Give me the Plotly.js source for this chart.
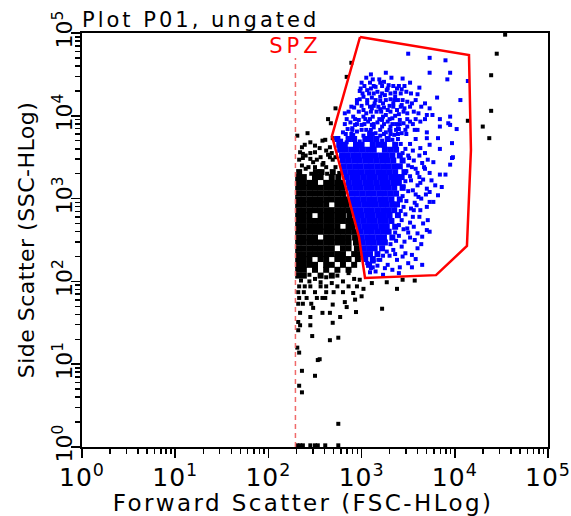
<!DOCTYPE html>
<html>
<head>
<meta charset="utf-8">
<script src="https://cdn.plot.ly/plotly-3.0.1.min.js"></script>
<style>
  html, body { margin:0; padding:0; background:#fff; }
  #chart .gtitle { letter-spacing: 3px; }
  #chart .xtitle { letter-spacing: 2.4px; transform: translateX(-12px); }
  #chart .ytitle { letter-spacing: 0.5px; }
  #chart .xtick text { letter-spacing: 1px; }
  #chart .textpoint text { letter-spacing: 4px; }
</style>
</head>
<body>
<div id="chart" style="width:571px;height:516px;"></div>
<script>
// ---- Data (values in decades, i.e. log10 of the channel value) ----
const tickVals = [1, 10, 100, 1000, 10000, 100000];
const tickText = ['10<sup>0</sup>','10<sup>1</sup>','10<sup>2</sup>','10<sup>3</sup>','10<sup>4</sup>','10<sup>5</sup>'];
const minorDigits = [2, 3, 4, 5, 6, 7, 8, 9];

// Gate "SPZ" polygon (FSC, SSC)
const gateFSC = [962, 14200, 14900, 13500, 6290, 1088, 937, 481, 962];
const gateSSC = [89500, 54200, 3860, 268, 119, 110, 344, 5700, 89500];

// SPZ threshold on FSC
const spzFSC = 195;
const spzTopSSC = 50000;
const spzLabelSSC = 66000;

// Dense blue (gated) core: rows of log10 SSC, each with log10 FSC positions
const blueCoreLogSSC = [3.72,3.65,3.59,3.52,3.46,3.39,3.32,3.26,3.19,3.13,3.06,2.99,2.93,2.86,2.80,2.73,2.66,2.60,2.53,2.47,2.40,2.33,2.27,2.20];
const blueCoreLogFSC = [
  [2.74,2.86,2.92,3.04,3.10,3.16,3.28],
  [2.76,2.82,2.94,3.00,3.12,3.18,3.24,3.36],
  [2.77,2.83,2.89,2.95,3.01,3.07,3.13,3.25,3.31,3.37],
  [2.79,2.85,2.91,2.97,3.03,3.09,3.15,3.21,3.27,3.33,3.41],
  [2.80,2.86,2.92,2.98,3.04,3.10,3.16,3.22,3.28,3.34,3.44],
  [2.81,2.87,2.93,2.99,3.05,3.11,3.17,3.23,3.29,3.35,3.41],
  [2.82,2.88,2.94,3.00,3.06,3.12,3.18,3.24,3.30,3.36,3.46],
  [2.84,2.90,2.96,3.02,3.08,3.14,3.20,3.26,3.32,3.38,3.43],
  [2.86,2.92,2.98,3.04,3.10,3.16,3.22,3.28,3.34,3.40],
  [2.87,2.93,2.99,3.05,3.11,3.17,3.23,3.29,3.35,3.44],
  [2.89,2.95,3.01,3.07,3.13,3.19,3.25,3.31,3.37],
  [2.90,2.96,3.02,3.08,3.14,3.20,3.26,3.32,3.41],
  [2.91,2.97,3.03,3.09,3.15,3.21,3.27,3.33,3.38],
  [2.93,2.99,3.05,3.11,3.17,3.23,3.29,3.35],
  [2.94,3.00,3.06,3.12,3.18,3.24,3.30,3.39],
  [2.96,3.02,3.08,3.14,3.20,3.26,3.32],
  [2.97,3.03,3.09,3.15,3.21,3.27,3.36],
  [2.99,3.05,3.11,3.17,3.23,3.29],
  [3.00,3.06,3.12,3.18,3.24,3.33],
  [3.01,3.07,3.13,3.19,3.25],
  [3.02,3.08,3.14,3.22],
  [3.03,3.09,3.17],
  [3.04,3.12],
  [3.08]
];

// Medium-density blue events above the core: rows of log10 SSC with log10 FSC positions
const blueUpperLogSSC = [4.36,4.33,4.27,4.19,4.11,4.05,3.96,3.90,3.83,3.78];
const blueUpperLogFSC = [
  [3.03,3.13,3.22,3.34,3.46],
  [2.99,3.10,3.28,3.38],
  [3.01,3.13,3.22,3.31,3.42,3.53],
  [2.95,3.06,3.15,3.26,3.35,3.44,3.58],
  [2.89,3.09,3.18,3.34,3.42,3.52,3.64],
  [2.86,2.97,3.10,3.21,3.31,3.45,3.56],
  [2.84,2.93,3.09,3.19,3.30,3.49,3.58,3.68],
  [2.82,2.95,3.03,3.13,3.24,3.33,3.41,3.55],
  [2.90,3.00,3.10,3.20,3.30,3.37,3.47,3.57],
  [2.83,2.89,3.08,3.12,3.24,3.31,3.39,3.48]
];

// Scattered blue (gated) events: [log10 FSC, log10 SSC]
const blueSparseLog = [
  [3.50,4.75],[3.73,4.70],[3.90,4.67],[3.26,4.52],[3.73,4.52],[3.95,4.52],[3.92,4.44],[4.06,4.19],[4.14,4.42],
  [3.05,4.46],[3.12,4.44],[3.19,4.44],[3.09,4.40],[3.20,4.40],[3.29,4.37],[3.52,4.40],[3.62,4.34],[2.98,4.30],
  [3.06,4.31],[3.17,4.29],[3.25,4.25],[3.43,4.32],[3.48,4.29],[3.60,4.26],[3.36,4.28],
  [3.02,4.23],[3.11,4.22],[3.20,4.23],[3.31,4.20],[3.39,4.19],[3.49,4.17],[3.54,4.15],[3.68,4.15],[3.81,4.22],
  [2.95,4.15],[3.06,4.15],[3.14,4.15],[3.23,4.15],[3.34,4.15],[3.43,4.13],
  [3.02,4.07],[3.11,4.09],[3.20,4.08],[3.28,4.07],[3.38,4.07],[3.49,4.03],[3.61,4.03],[3.73,4.09],[3.70,4.01],
  [3.76,4.01],[2.82,4.03],[2.91,3.99],[3.02,3.99],[3.12,3.99],[3.23,3.99],[3.33,3.97],[3.41,3.95],[3.52,3.93],
  [3.63,3.93],[3.84,3.96],[3.93,3.91],[4.02,3.84],[3.95,3.99],[3.95,3.89],
  [2.80,3.80],[2.90,3.85],[3.00,3.89],[3.11,3.89],[3.22,3.87],[3.31,3.87],[3.39,3.85],[3.49,3.87],[3.60,3.83],
  [3.70,3.80],[3.84,3.87],[2.88,3.73],[3.70,3.73],[3.82,3.73],[3.97,3.67],[3.73,3.65],[3.63,3.61],[3.84,3.60],
  [3.68,3.55],[3.71,3.47],[3.97,3.49],
  [3.00,4.40],[3.27,4.31],[3.40,4.36],[2.98,4.20],[3.08,4.27],[3.20,4.18],[3.30,4.12],[3.46,4.09],[2.92,4.10],
  [3.05,4.03],[3.16,4.05],[3.26,4.01],[3.36,4.00],[2.88,3.92],[2.97,3.95],[3.07,3.93],[3.17,3.92],[3.28,3.93],
  [3.37,3.90],[3.45,3.91],[2.85,3.84],[2.95,3.81],[3.05,3.83],[3.15,3.79],[3.26,3.80],[3.35,3.77],[3.43,3.79],
  [2.91,3.77],[3.02,3.76],[3.20,3.76],
  [2.78,3.70],[2.84,3.68],[2.98,3.69],[3.22,3.70],[3.33,3.71],[3.39,3.72],[3.09,3.80],[3.31,3.82],[3.40,3.84],
  [3.13,3.86],[2.93,3.89],[3.04,3.96],[3.22,3.95],[3.40,4.02],[3.13,4.12],[3.24,4.10],[3.00,4.12],[3.36,4.23],
  [3.15,4.35],[3.24,4.41],[3.32,4.46],[3.10,4.50],[3.44,4.45],
  [3.42,3.66],[3.47,3.60],[3.44,3.55],[3.51,3.49],[3.50,3.40],[3.48,3.33],[3.52,3.27],[3.47,3.21],[3.45,3.15],
  [3.50,3.09],[3.44,3.03],[3.48,2.97],[3.45,2.90],[3.42,2.85],[3.47,2.81],[3.43,2.74],[3.40,2.68],[3.45,2.63],
  [3.36,2.59],[3.40,2.55],[3.37,2.49],[3.31,2.45],[3.34,2.38],[3.27,2.36],[3.30,2.31],[3.23,2.31],[3.18,2.26],
  [3.13,2.24],[3.17,2.19],[3.10,2.16],[3.25,2.16],[3.36,2.33],[3.49,2.64],[3.52,2.53],[3.56,2.86],[3.58,3.05],
  [3.60,3.16],[3.62,3.26],
  [3.95,3.41],[3.84,3.29],[3.73,3.31],[3.66,3.23],[3.79,3.16],[3.86,3.14],[3.73,3.08],[3.82,3.04],[3.73,2.96],
  [3.70,2.90],[3.63,2.86],[3.70,2.62],[3.73,2.60],[3.65,2.54],[3.57,2.50],[3.60,2.40],[3.54,2.32],[3.65,2.20],
  [3.54,2.17],[3.41,2.17],[3.33,2.14],[3.23,2.08],[3.12,2.17],[3.06,2.22],[3.20,2.26],[3.38,2.26],[3.47,2.34],
  [3.43,2.42],[3.50,2.59],[3.52,2.71],[3.55,2.78],[3.57,2.95],[3.61,3.02],[3.55,3.10],[3.63,3.19],[3.60,3.31],
  [3.54,3.38],[3.65,3.43],[3.77,3.44],[3.98,3.50],[3.90,3.29],[3.77,2.96],[3.71,2.74],[3.09,2.11],[3.53,3.22],
  [3.58,3.36],[3.53,2.88],[3.56,2.66],[3.46,2.48],[3.44,2.30],[3.28,2.20],[3.15,2.12],[3.55,3.58],[3.52,3.66],
  [3.58,3.72],[3.50,3.52],[3.56,3.46],
  [3.62,3.52],[3.67,3.38],[3.70,3.12],[3.64,3.00],[3.62,2.78],[3.66,2.70],[3.60,2.58],[3.68,3.36],[3.75,3.22],
  [3.69,3.05],[3.59,2.92],[3.64,2.45],[3.58,2.27],[3.50,2.22],[3.40,2.10]
];

// Dense black (ungated) core
const blackCoreLogSSC = [3.32,3.26,3.19,3.13,3.06,2.99,2.93,2.86,2.80,2.73,2.66,2.60,2.53,2.47,2.40,2.33,2.27,2.20,2.14,2.07];
const blackCoreLogFSC = [
  [2.33,2.51,2.57,2.69],
  [2.32,2.38,2.50,2.56,2.68,2.75],
  [2.32,2.38,2.44,2.50,2.62,2.68,2.74,2.78],
  [2.32,2.38,2.44,2.50,2.56,2.62,2.68,2.74,2.79],
  [2.32,2.38,2.44,2.50,2.56,2.62,2.68,2.74,2.80],
  [2.32,2.38,2.44,2.50,2.56,2.62,2.68,2.74,2.80,2.83],
  [2.32,2.38,2.44,2.50,2.56,2.62,2.74,2.80,2.84],
  [2.32,2.38,2.44,2.50,2.56,2.62,2.68,2.74,2.80,2.86],
  [2.32,2.38,2.44,2.56,2.62,2.68,2.74,2.80,2.87],
  [2.32,2.38,2.44,2.50,2.56,2.62,2.68,2.74,2.80,2.86,2.89],
  [2.32,2.38,2.44,2.50,2.56,2.62,2.68,2.74,2.86,2.90],
  [2.32,2.38,2.44,2.50,2.56,2.62,2.68,2.74,2.80,2.86,2.92],
  [2.32,2.38,2.44,2.50,2.62,2.68,2.74,2.80,2.86,2.93],
  [2.32,2.38,2.44,2.50,2.56,2.62,2.68,2.74,2.80,2.86,2.94],
  [2.32,2.38,2.44,2.50,2.56,2.62,2.68,2.80,2.86,2.95],
  [2.32,2.38,2.44,2.50,2.56,2.62,2.68,2.74,2.80,2.92,2.96],
  [2.32,2.38,2.44,2.56,2.62,2.74,2.80,2.86,2.96],
  [2.32,2.38,2.44,2.50,2.62,2.68,2.80,2.92],
  [2.32,2.38,2.50,2.62,2.74,2.86],
  [2.32,2.38,2.56,2.68]
];

// Scattered black (ungated) events: [log10 FSC, log10 SSC]
const blackSparseLog = [
  [4.54,4.98],[4.45,4.75],[4.39,4.49],[4.39,4.06],[4.14,3.94],[4.30,3.87],[4.37,3.73],
  [2.89,4.64],[2.84,4.47],[2.72,4.09],[2.64,3.96],[2.67,3.91],[2.31,3.76],[2.69,3.73],[2.61,3.71],[2.36,3.62],
  [2.55,3.61],[2.50,3.56],[2.45,3.55],[2.37,3.54],[2.68,3.55],[2.64,3.53],[2.72,3.50],[2.37,3.49],[2.45,3.48],
  [2.52,3.47],[2.59,3.43],[2.69,3.47],[2.43,3.38],[2.50,3.38],[2.58,3.41],[2.72,3.38],[2.66,3.50],[2.33,3.47],
  [2.39,3.65],[2.45,3.68],
  [2.40,3.36],[2.55,3.33],[2.63,3.30],[2.46,3.30],[2.36,3.40],[2.62,3.38],[2.76,3.31],[2.48,3.44],[2.40,3.52],
  [2.56,3.50],[2.62,3.58],[2.34,3.56],[2.50,3.64],[2.58,3.70],[2.42,3.79],[2.66,3.62],
  [2.44,2.08],[2.50,2.03],[2.62,2.05],[2.74,2.07],[2.86,2.10],[2.92,2.03],[2.80,2.00],[2.35,2.01],[2.44,2.00],
  [2.98,2.02],[2.68,1.98],[2.56,1.99],
  [2.33,1.94],[2.39,1.94],[2.45,1.94],[2.56,1.94],[2.62,1.94],[2.74,1.94],[2.86,1.94],[2.95,1.94],
  [2.32,1.87],[2.38,1.87],[2.50,1.87],[2.62,1.87],[2.70,1.87],[2.80,1.87],
  [2.33,1.80],[2.41,1.80],[2.52,1.80],[2.58,1.80],[2.32,1.73],[2.37,1.73],[2.46,1.73],
  [2.61,1.80],[2.69,1.72],[2.82,1.75],[2.93,1.78],[3.00,1.82],[2.91,1.86],[2.84,1.69],[2.94,1.63],[2.77,1.57],
  [2.66,1.62],[2.58,1.62],[2.48,1.68],[2.45,1.57],[2.34,1.62],[2.32,1.51],[2.34,1.47],[2.45,1.47],[2.69,1.50],
  [2.32,1.41],[2.47,1.34],[2.66,1.29],[2.75,1.32],[2.31,1.20],[2.33,1.14],[2.53,1.05],[2.55,1.06],[2.36,0.92],
  [2.50,0.86],[2.33,0.74],[2.36,0.66],[2.75,0.28],
  [3.02,1.91],[3.27,1.99],[3.38,1.91],[3.57,2.01],[3.44,2.02],[3.11,1.98],[3.22,1.67],
  [2.31,0.02],[2.34,0.02],[2.37,0.02],[2.45,0.02],[2.50,0.02],[2.53,0.02],[2.61,0.02],[2.75,0.02]
];

// ---- Build traces ----
function fromRows(rowsY, rowsX) {
  const x = [], y = [];
  rowsY.forEach((ly, i) => rowsX[i].forEach(lx => { x.push(Math.pow(10, lx)); y.push(Math.pow(10, ly)); }));
  return {x, y};
}
function fromPairs(pairs) {
  return {x: pairs.map(p => Math.pow(10, p[0])), y: pairs.map(p => Math.pow(10, p[1]))};
}
const bc = fromRows(blackCoreLogSSC, blackCoreLogFSC);
const bs = fromPairs(blackSparseLog);
const uc = fromRows(blueCoreLogSSC, blueCoreLogFSC);
const uu = fromRows(blueUpperLogSSC, blueUpperLogFSC);
const us = fromPairs(blueSparseLog);

const minorVals = [];
tickVals.slice(0, 5).forEach(d => minorDigits.forEach(m => minorVals.push(d * m)));

const traces = [
  {type:'scatter', mode:'markers', x:bc.x, y:bc.y, marker:{symbol:'square', size:6, color:'#000000', line:{width:0}}, hoverinfo:'skip'},
  {type:'scatter', mode:'markers', x:bs.x, y:bs.y, marker:{symbol:'square', size:4, color:'#000000', line:{width:0}}, hoverinfo:'skip', cliponaxis:false},
  {type:'scatter', mode:'markers', x:uc.x, y:uc.y, marker:{symbol:'square', size:6, color:'#0000ff', line:{width:0}}, hoverinfo:'skip'},
  {type:'scatter', mode:'markers', x:uu.x, y:uu.y, marker:{symbol:'square', size:4, color:'#0000ff', line:{width:0}}, hoverinfo:'skip'},
  {type:'scatter', mode:'markers', x:us.x, y:us.y, marker:{symbol:'square', size:4, color:'#0000ff', line:{width:0}}, hoverinfo:'skip'},
  {type:'scatter', mode:'lines', x:[spzFSC, spzFSC], y:[1, spzTopSSC], line:{color:'#f06a6a', width:1.5, dash:'5px,4px'}, hoverinfo:'skip'},
  {type:'scatter', mode:'lines', x:gateFSC, y:gateSSC, line:{color:'#ff0000', width:2.5}, hoverinfo:'skip'},
  {type:'scatter', mode:'text', x:[spzFSC], y:[spzLabelSSC], text:['SPZ'], textposition:'middle center',
   textfont:{family:'DejaVu Sans', size:21, color:'#ff0000'}, hoverinfo:'skip'}
];

const axisCommon = {
  type:'log', range:[0,5], tickmode:'array', tickvals:tickVals, ticktext:tickText,
  ticks:'outside', ticklen:9, tickwidth:1.5, tickcolor:'#000',
  showline:true, linewidth:2, linecolor:'#000', mirror:true,
  showgrid:false, zeroline:false,
  minor:{ticks:'outside', ticklen:5, tickwidth:1.5, tickcolor:'#000', tickmode:'array', tickvals:minorVals, showgrid:false}
};

const layout = {
  width:571, height:516,
  margin:{l:82, r:23, t:33, b:69},
  paper_bgcolor:'#ffffff', plot_bgcolor:'#ffffff',
  showlegend:false,
  font:{family:'DejaVu Sans', color:'#000'},
  title:{text:'Plot P01, ungated', font:{family:'DejaVu Sans', size:21, color:'#000'},
         xref:'paper', x:0, xanchor:'left', yref:'container', y:1-20/516, yanchor:'middle'},
  xaxis:Object.assign({}, axisCommon, {
    tickfont:{family:'DejaVu Sans', size:25, color:'#000'},
    ticklabelstandoff:-2,
    title:{text:'Forward Scatter (FSC-HLog)', font:{family:'DejaVu Sans', size:23, color:'#000'}, standoff:2}
  }),
  yaxis:Object.assign({}, axisCommon, {
    tickfont:{family:'DejaVu Sans', size:22, color:'#000'},
    tickangle:-90,
    ticklabelstandoff:-10,
    title:{text:'Side Scatter (SSC-HLog)', font:{family:'DejaVu Sans', size:22, color:'#000'}, standoff:8}
  })
};

Plotly.newPlot('chart', traces, layout, {staticPlot:true, displayModeBar:false});
</script>
</body>
</html>
